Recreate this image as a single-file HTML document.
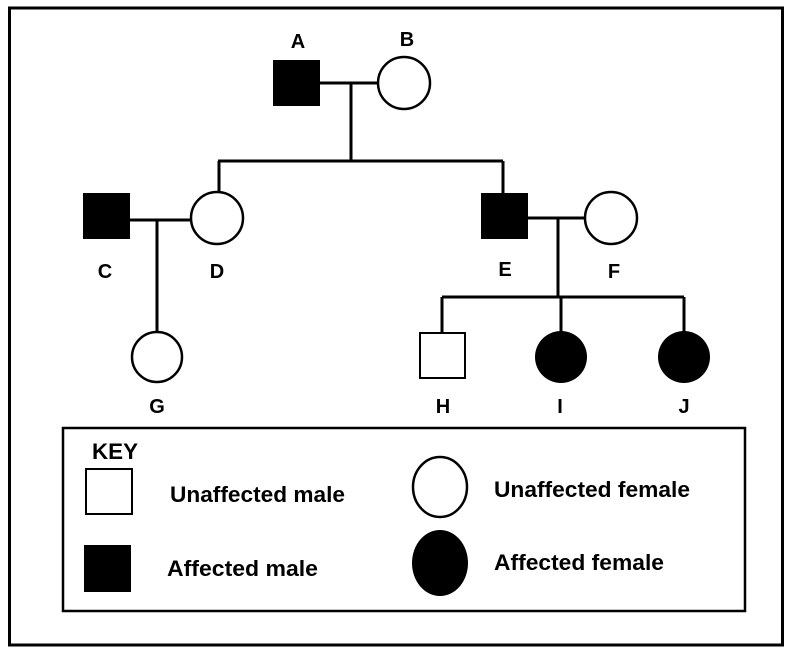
<!DOCTYPE html>
<html><head><style>body{margin:0;background:#fff}svg{display:block}text{font-family:"Liberation Sans",sans-serif;font-weight:bold}</style></head>
<body>
<svg width="791" height="653" viewBox="0 0 791 653" xmlns="http://www.w3.org/2000/svg">
<rect x="9.5" y="8" width="773" height="637" fill="none" stroke="#000" stroke-width="3"/>
<g stroke="#000" stroke-width="3" fill="none">
<line x1="320" y1="83" x2="378" y2="83"/><line x1="351" y1="83" x2="351" y2="161"/>
<line x1="218" y1="161" x2="503" y2="161"/><line x1="219" y1="161" x2="219" y2="193"/><line x1="503" y1="161" x2="503" y2="193"/>
<line x1="130" y1="220" x2="191" y2="220"/><line x1="157" y1="220" x2="157" y2="332"/>
<line x1="528" y1="218" x2="585" y2="218"/><line x1="558" y1="218" x2="558" y2="297"/>
<line x1="442" y1="297" x2="684" y2="297"/><line x1="442" y1="297" x2="442" y2="332"/><line x1="561" y1="297" x2="561" y2="332"/><line x1="684" y1="297" x2="684" y2="332"/>
</g>
<rect x="273" y="60" width="47" height="46" fill="#000"/>
<circle cx="404" cy="83" r="26" fill="#fff" stroke="#000" stroke-width="2.5"/>
<rect x="83" y="193" width="47" height="46" fill="#000"/>
<circle cx="217" cy="218" r="26" fill="#fff" stroke="#000" stroke-width="2.5"/>
<rect x="481" y="193" width="47" height="46" fill="#000"/>
<circle cx="611" cy="218" r="26" fill="#fff" stroke="#000" stroke-width="2.5"/>
<circle cx="157" cy="357" r="25" fill="#fff" stroke="#000" stroke-width="2.5"/>
<rect x="420" y="333" width="45" height="45" fill="#fff" stroke="#000" stroke-width="2"/>
<circle cx="561" cy="357" r="26" fill="#000"/>
<circle cx="684" cy="357" r="26" fill="#000"/>
<g font-size="20" text-anchor="middle">
<text x="298" y="48">A</text><text x="407" y="46">B</text>
<text x="105" y="278">C</text><text x="217" y="278">D</text>
<text x="505" y="276">E</text><text x="614" y="278">F</text>
<text x="157" y="413">G</text><text x="443" y="413">H</text><text x="560" y="413">I</text><text x="684" y="413">J</text>
</g>
<rect x="63" y="428" width="682" height="183" fill="none" stroke="#000" stroke-width="2.5"/>
<rect x="86" y="469" width="46" height="45" fill="#fff" stroke="#000" stroke-width="2"/>
<rect x="84" y="545" width="47" height="47" fill="#000"/>
<ellipse cx="440" cy="487" rx="27" ry="30" fill="#fff" stroke="#000" stroke-width="2.5"/>
<ellipse cx="440" cy="563" rx="28" ry="33" fill="#000"/>
<g font-size="22">
<text x="92" y="459" textLength="46" lengthAdjust="spacingAndGlyphs">KEY</text>
<text x="170" y="502" textLength="175" lengthAdjust="spacingAndGlyphs">Unaffected male</text>
<text x="494" y="497" textLength="196" lengthAdjust="spacingAndGlyphs">Unaffected female</text>
<text x="167" y="576" textLength="151" lengthAdjust="spacingAndGlyphs">Affected male</text>
<text x="494" y="570" textLength="170" lengthAdjust="spacingAndGlyphs">Affected female</text>
</g>
</svg>
</body></html>
